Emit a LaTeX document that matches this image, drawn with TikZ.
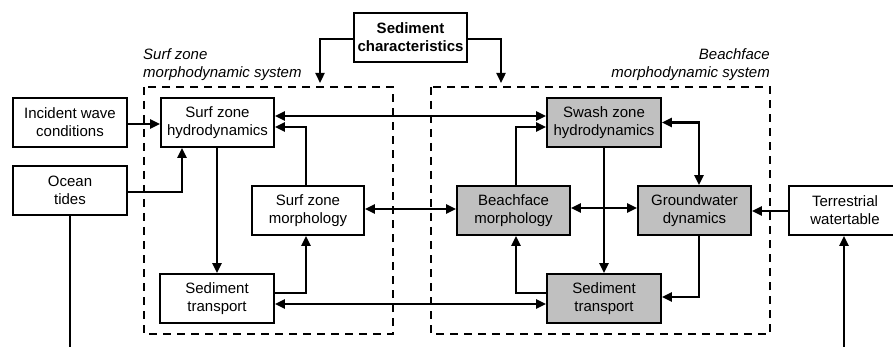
\documentclass[tikz,border=0pt]{standalone}
\usepackage{fontspec}
\setmainfont{Liberation Sans}
\usetikzlibrary{arrows.meta}
\definecolor{boxgrey}{RGB}{192,192,192}
\tikzset{
  box/.style={draw=black, line width=1.7pt, fill=white, minimum width=113pt, minimum height=49pt,
    inner sep=0pt, align=center, font=\fontsize{15}{18}\selectfont},
  gbox/.style={box, fill=boxgrey},
  arr/.style={line width=2.3pt, -{Triangle[length=10pt,width=9pt]}},
  darr/.style={line width=2.3pt, {Triangle[length=10pt,width=9pt]}-{Triangle[length=10pt,width=9pt]}},
  plainline/.style={line width=2.3pt},
  zone/.style={draw=black, line width=1.8pt, dash pattern=on 8pt off 6pt},
  zlabel/.style={inner sep=0pt, font=\fontsize{15}{18}\selectfont\itshape}
}
\begin{document}
\begin{tikzpicture}[x=1pt, y=-1pt]
\useasboundingbox (0,0) rectangle (893,347);
\clip (0,0) rectangle (893,347);
% zones
\draw[zone] (144,87) rectangle (393,334);
\draw[zone] (431,87) rectangle (770,334);
\node[zlabel, anchor=north west, align=left] (lzl) at (143,48) {Surf zone\\morphodynamic system};
\node[zlabel, anchor=north east, align=right] (rzl) at (770,48) {Beachface\\morphodynamic system};
% nodes
\node[box, font=\fontsize{15}{18}\selectfont\bfseries] (sed) at (410.5,37.5) {Sediment\\characteristics};
\node[box, minimum width=114pt] (iwc) at (70,122.5) {Incident wave\\conditions};
\node[box] (szh) at (217.5,122.5) {Surf zone\\hydrodynamics};
\node[box, minimum width=114pt] (tides) at (70,190.5) {Ocean\\tides};
\node[box, minimum width=112pt] (szm) at (308,210.5) {Surf zone\\morphology};
\node[box, minimum width=114pt] (st1) at (217,298.5) {Sediment\\transport};
\node[gbox] (bm) at (513.5,210.5) {Beachface\\morphology};
\node[gbox, minimum width=114pt] (swh) at (604,122.5) {Swash zone\\hydrodynamics};
\node[gbox] (gw) at (694.5,210.5) {Groundwater\\dynamics};
\node[gbox, minimum width=114pt] (st2) at (604,298.5) {Sediment\\transport};
\node[box, minimum width=112pt] (tw) at (845,210.5) {Terrestrial\\watertable};
% free ends
\coordinate (lsd) at (320,83);
\coordinate (rsd) at (501,83);
\coordinate (tb) at (71,352);
\coordinate (twb) at (844,352);
% connectors
\draw[arr] ([yshift=-1.5]sed.west) -| (lsd);
\draw[arr] ([yshift=-1.5]sed.east) -| (rsd);
\draw[arr] ([yshift=-1.5]iwc.east) -- ([yshift=-1.5]szh.west);
\draw[arr] ([yshift=-1.5]tides.east) -| ([xshift=-35.5]szh.south);
\draw[plainline] (tides.south) -- (tides.south |- tb);
\draw[arr] ([xshift=-0.5]szh.south) -- ([xshift=-0.5]szh.south |- st1.north);
\draw[arr] ([xshift=-2]szm.north) |- ([yshift=-4.5]szh.east);
\draw[darr] ([yshift=6.5]szh.east) -- ([yshift=6.5]swh.west);
\draw[arr] ([yshift=5.5]st1.east) -| ([xshift=-2]szm.south);
\draw[darr] ([yshift=-5.5]st1.east) -- ([yshift=-5.5]st2.west);
\draw[darr] ([yshift=1.5]szm.east) -- ([yshift=1.5]bm.west);
\draw[arr] ([xshift=2.5]bm.north) |- ([yshift=-4.5]swh.west);
\draw[darr] (swh.east) -| ([xshift=4.5]gw.north);
\draw[arr] (swh.south) -- (st2.north);
\draw[darr] ([yshift=2.5]bm.east) -- ([yshift=2.5]gw.west);
\draw[arr] ([xshift=4.5]gw.south) |- ([yshift=1.5]st2.east);
\draw[arr] ([yshift=5.5]st2.west) -| ([xshift=2.5]bm.south);
\draw[arr] ([yshift=-0.5]tw.west) -- ([yshift=-0.5]gw.east);
\draw[arr] (twb) -- (twb |- tw.south);
\end{tikzpicture}
\end{document}
